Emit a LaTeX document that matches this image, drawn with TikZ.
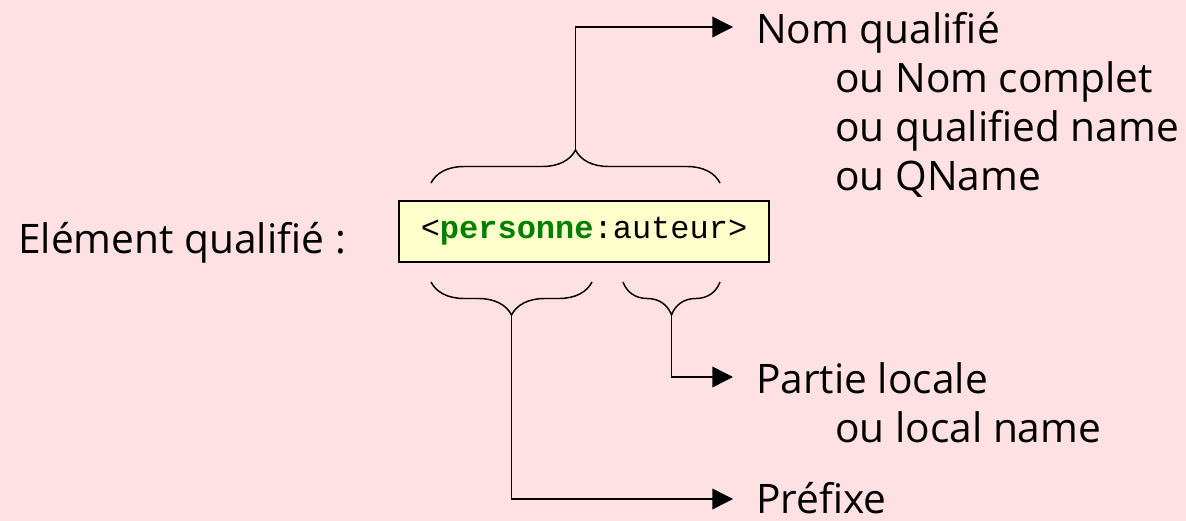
\documentclass[tikz,border=0pt]{standalone}
\usepackage{fontspec}
\setmainfont{Open Sans}
\setmonofont{Liberation Mono}
\usetikzlibrary{arrows.meta,decorations.pathreplacing,calc}
\definecolor{pagebg}{RGB}{255,225,228}
\definecolor{tagfill}{RGB}{255,255,204}
\definecolor{prefgreen}{RGB}{0,128,0}
\tikzset{
  lbl/.style={anchor=base west,inner sep=0pt,font=\fontsize{30.5}{36}\selectfont},
  bracel/.style={decorate,decoration={brace,amplitude=24.75pt},line width=1.1pt},
  conn/.style={line width=1.1pt,-{Triangle[length=15.5pt,width=15.5pt]}},
  tagbox/.style={draw,line width=1.1pt,fill=tagfill,minimum width=277.5pt,minimum height=45.75pt,
    inner sep=0pt,font=\ttfamily\fontsize{24}{28}\selectfont}
}
\begin{document}
\begin{tikzpicture}[x=0.75pt,y=-0.75pt]
  \fill[pagebg] (0,0) rectangle (1186,521);
  \useasboundingbox (0,0) rectangle (1186,521);

  % the qualified element itself
  \node[lbl] (elem) at (18,253) {Elément qualifié :};
  \node[tagbox] (tag) at (584,231.5) {\strut<\textcolor{prefgreen}{\textbf{personne}}:auteur>};

  % braces over and under the tag
  \coordinate (qnL) at (431,183);
  \coordinate (qnR) at (720,183);
  \coordinate (qnTip) at (575.5,150);
  \draw[bracel] (qnL) -- (qnR);

  \coordinate (pfL) at (431,282);
  \coordinate (pfR) at (592,282);
  \coordinate (pfTip) at (511.5,315);
  \draw[bracel] (pfR) -- (pfL);

  \coordinate (lcL) at (623,282);
  \coordinate (lcR) at (720,282);
  \coordinate (lcTip) at (671.5,315);
  \draw[bracel] (lcR) -- (lcL);

  % labels
  \node[lbl] (nom1) at (756,43) {Nom qualifié};
  \node[lbl] (nom2) at (835,92) {ou Nom complet};
  \node[lbl] (nom3) at (835,141) {ou qualified name};
  \node[lbl] (nom4) at (835,190) {ou QName};

  \node[lbl] (loc1) at (756,393) {Partie locale};
  \node[lbl] (loc2) at (835,442) {ou local name};

  \node[lbl,text depth=0pt] (pref) at (756,513) {Préfixe};

  % connectors from the brace tips to the labels
  \draw[conn] (qnTip) |- ($(nom1.base west)+(-23,-16)$);
  \draw[conn] (lcTip) |- ($(loc1.base west)+(-23,-16)$);
  \draw[conn] (pfTip) |- ($(pref.base west)+(-23,-14)$);
\end{tikzpicture}
\end{document}
